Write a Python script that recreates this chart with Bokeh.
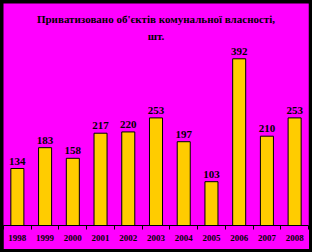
from bokeh.plotting import figure
from bokeh.models import ColumnDataSource, LabelSet, Label, FixedTicker, Range1d, Column
from bokeh.embed import file_html
from bokeh.resources import INLINE

years = ["1998", "1999", "2000", "2001", "2002", "2003", "2004", "2005", "2006", "2007", "2008"]
values = [134, 183, 158, 217, 220, 253, 197, 103, 392, 210, 253]
title_lines = ["Приватизовано об'єктів комунальної власності,", "шт."]

xs = [i + 0.5 for i in range(len(years))]
src = ColumnDataSource(dict(x=xs, top=values, lab=[str(v) for v in values]))

MAG = "#FF00FF"
p = figure(width=306, height=246, output_backend="svg", toolbar_location=None,
           x_range=Range1d(0, len(years)), y_range=Range1d(0, 522),
           min_border_left=0, min_border_right=1, min_border_top=0, min_border_bottom=24,
           background_fill_color=MAG, border_fill_color=MAG, outline_line_color=None)
p.vbar(x="x", top="top", width=0.47, source=src, fill_color="#FFCC00",
       line_color="black", line_width=1)

p.add_layout(LabelSet(x="x", y="top", text="lab", source=src, y_offset=4,
                      text_align="center", text_baseline="bottom",
                      text_font="Liberation Serif", text_font_style="bold",
                      text_font_size="11px", text_color="black"))

for txt, yy in zip(title_lines, [207, 190]):
    p.add_layout(Label(x=152.5, y=yy, x_units="screen", y_units="screen", text=txt,
                       text_align="center", text_baseline="middle",
                       text_font="Liberation Serif", text_font_style="bold",
                       text_font_size="11px", text_color="black"))

p.yaxis.visible = False
p.grid.visible = False
ax = p.xaxis[0]
ax.ticker = FixedTicker(ticks=xs, minor_ticks=list(range(len(years) + 1)))
ax.major_label_overrides = {x: y for x, y in zip(xs, years)}
ax.major_tick_line_color = None
ax.major_tick_out = 0
ax.major_tick_in = 0
ax.minor_tick_line_color = "black"
ax.minor_tick_out = 4
ax.minor_tick_in = 0
ax.axis_line_color = "black"
ax.axis_line_width = 1
ax.major_label_standoff = 5
ax.major_label_text_font = "Liberation Serif"
ax.major_label_text_font_style = "bold"
ax.major_label_text_font_size = "9px"
ax.major_label_text_color = "black"

layout = Column(children=[p], styles={"background-color": "black", "padding": "3px"})
open("out.html", "w").write(file_html(layout, INLINE))
